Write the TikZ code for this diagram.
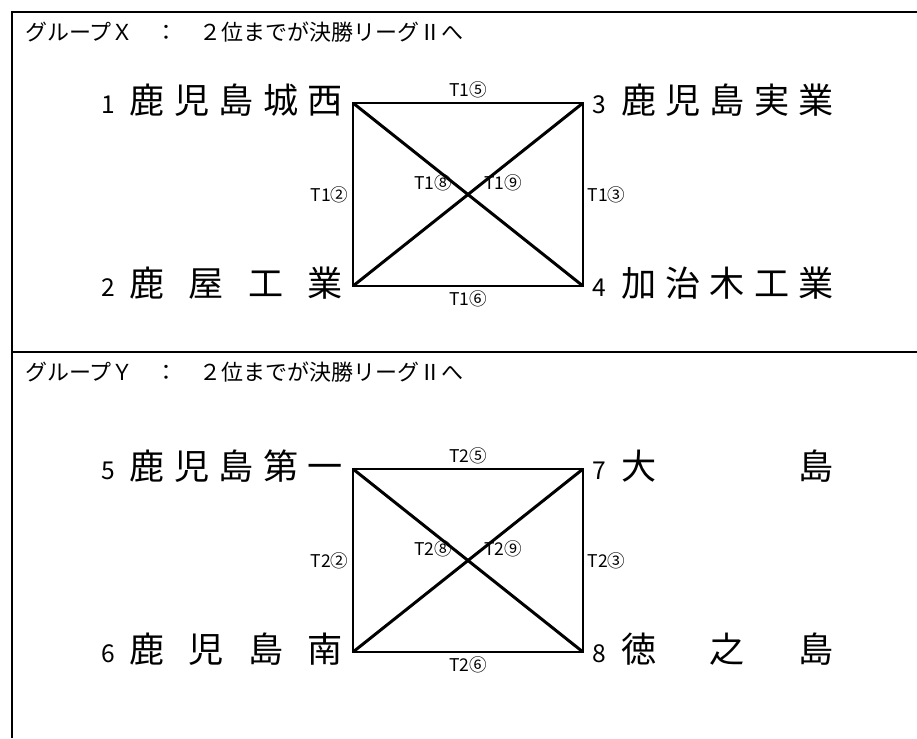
\documentclass[tikz,border=0pt]{standalone}
\usepackage{fontspec}
\newfontfamily\jp{Noto Sans CJK JP}
\usepackage{tikz}
\usetikzlibrary{positioning}

\tikzset{
  frame/.style={line width=1.4pt},
  edge/.style={line width=1.3pt},
  cross/.style={line width=1.7pt},
  head/.style={font=\jp\fontsize{12.5}{15}\selectfont,anchor=west,inner sep=0pt},
  team/.style={font=\jp\fontsize{20}{24}\selectfont,inner sep=0pt},
  match/.style={font=\jp\fontsize{10}{12}\selectfont,inner sep=2pt}
}
\newcommand{\seed}[1]{{\fontsize{14}{16}\selectfont #1}\hspace{0.3cm}}
\newcommand{\tname}[1]{\makebox[4.26cm][s]{#1}}

\begin{document}
\begin{tikzpicture}[x=0.02cm,y=-0.02cm]
        \useasboundingbox (0,0) rectangle (917,738);
        % outer frame
        \draw[frame] (12,738) -- (12,12) -- (917,12);
        \draw[frame] (12,352) -- (917,352);
        % group X
        \node[head] (hx) at (25,32) {グループＸ　：　２位までが決勝リーグⅡへ};
        \coordinate (x1) at (353,103);
        \coordinate (x3) at (583,103);
        \coordinate (x2) at (353,286);
        \coordinate (x4) at (583,286);
        \draw[edge] (x1) -- node[match,above] (m5) {T1⑤} (x3)
          -- node[match,right] (m3) {T1③} (x4)
          -- node[match,below] (m6) {T1⑥} (x2)
          -- node[match,left] (m2) {T1②} cycle;
        \draw[cross] (x1) -- (x4) (x2) -- (x3);
        \node[match] (m8) at (433,183) {T1⑧};
        \node[match] (m9) at (503,183) {T1⑨};
        \node[team,left=0.2cm of x1,yshift=0.05cm] (t1) {\seed{1}\tname{鹿\hfill 児\hfill 島\hfill 城\hfill 西}};
        \node[team,left=0.2cm of x2,yshift=0.06cm] (t2) {\seed{2}\tname{鹿\hfill 屋\hfill 工\hfill 業}};
        \node[team,right=0.18cm of x3,yshift=0.05cm] (t3) {\seed{3}\tname{鹿\hfill 児\hfill 島\hfill 実\hfill 業}};
        \node[team,right=0.18cm of x4,yshift=0.06cm] (t4) {\seed{4}\tname{加\hfill 治\hfill 木\hfill 工\hfill 業}};
        % group Y
        \node[head] (hy) at (25,372) {グループＹ　：　２位までが決勝リーグⅡへ};
        \coordinate (y1) at (353,469);
        \coordinate (y3) at (583,469);
        \coordinate (y2) at (353,652);
        \coordinate (y4) at (583,652);
        \draw[edge] (y1) -- node[match,above] (n5) {T2⑤} (y3)
          -- node[match,right] (n3) {T2③} (y4)
          -- node[match,below] (n6) {T2⑥} (y2)
          -- node[match,left] (n2) {T2②} cycle;
        \draw[cross] (y1) -- (y4) (y2) -- (y3);
        \node[match] (n8) at (433,549) {T2⑧};
        \node[match] (n9) at (503,549) {T2⑨};
        \node[team,left=0.2cm of y1,yshift=0.05cm] (t5) {\seed{5}\tname{鹿\hfill 児\hfill 島\hfill 第\hfill 一}};
        \node[team,left=0.2cm of y2,yshift=0.06cm] (t6) {\seed{6}\tname{鹿\hfill 児\hfill 島\hfill 南}};
        \node[team,right=0.18cm of y3,yshift=0.05cm] (t7) {\seed{7}\tname{大\hfill 島}};
        \node[team,right=0.18cm of y4,yshift=0.06cm] (t8) {\seed{8}\tname{徳\hfill 之\hfill 島}};
\end{tikzpicture}
\end{document}
